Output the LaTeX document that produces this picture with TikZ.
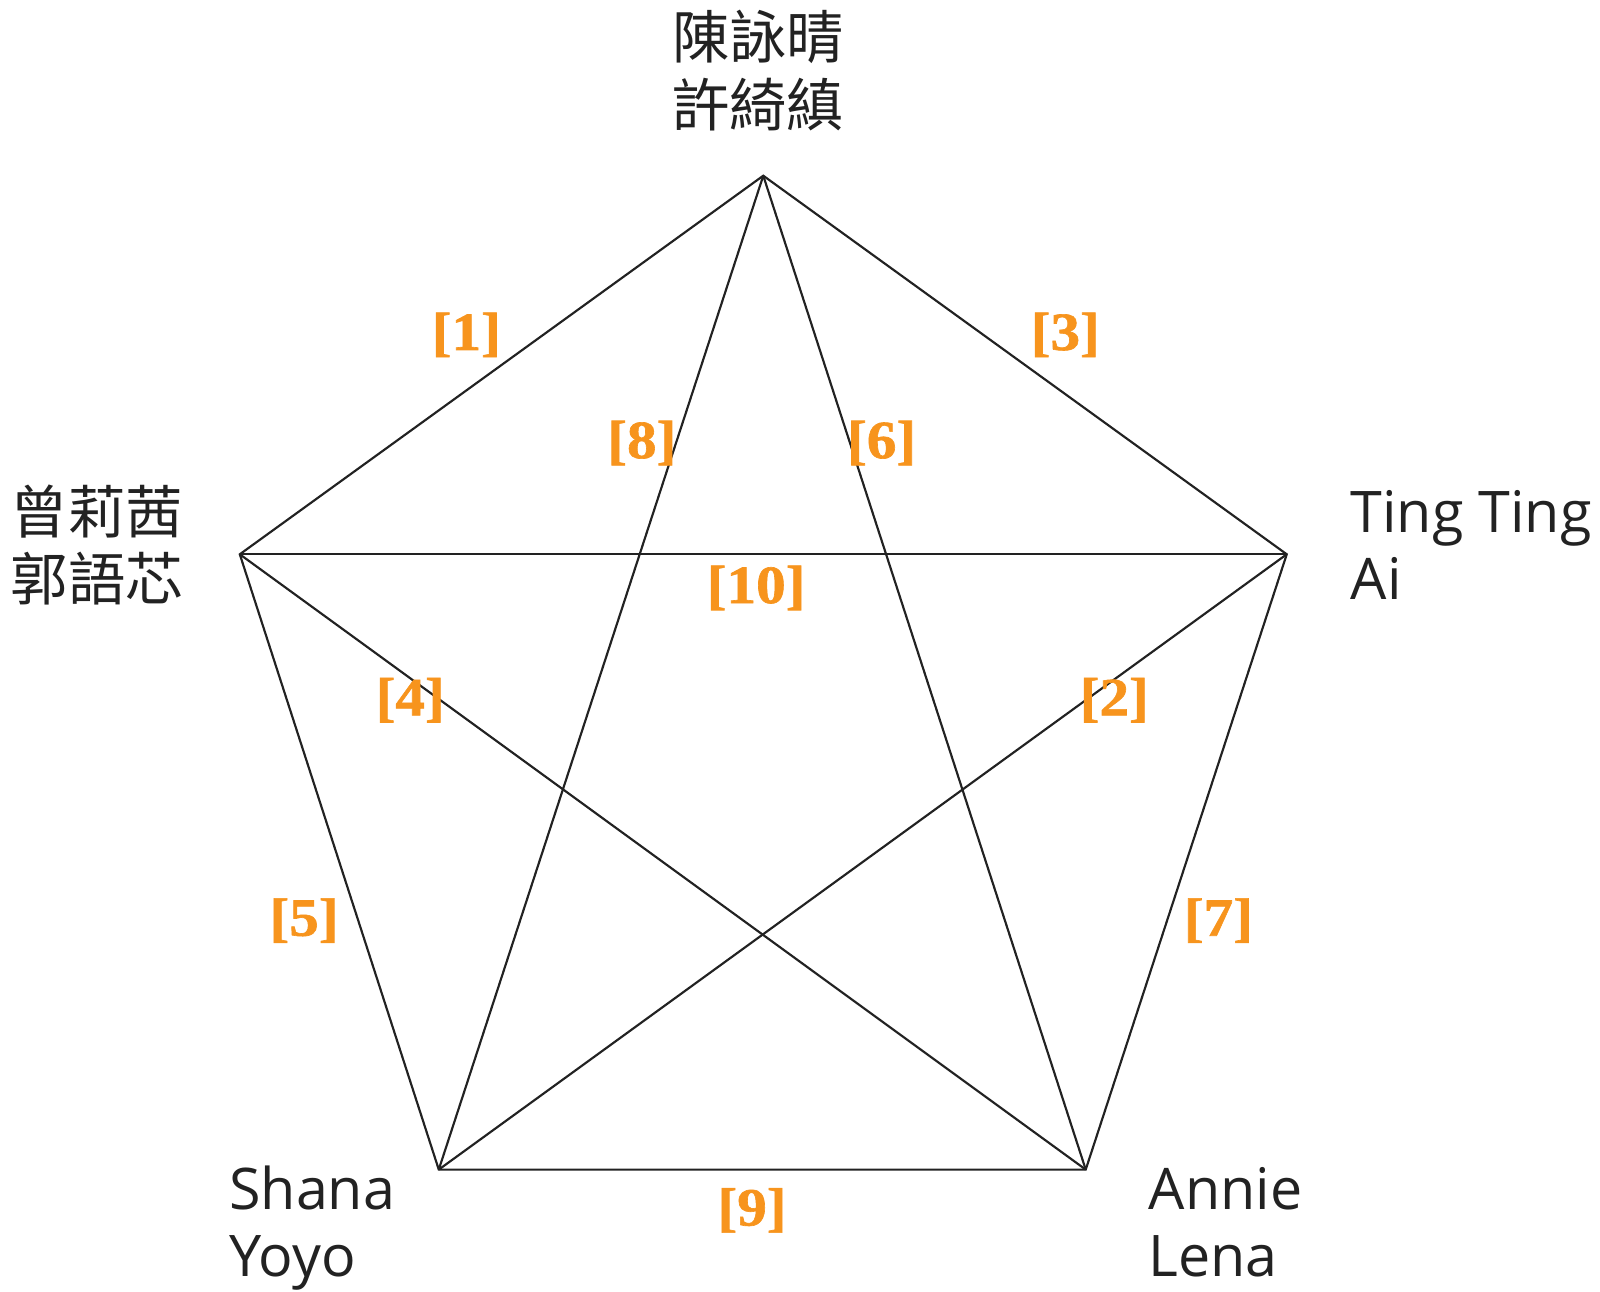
\documentclass[tikz,border=0pt]{standalone}
\usepackage{fontspec}
\setmainfont{Open Sans}
\newfontfamily\cjk{Noto Sans CJK TC}
\newfontfamily\tagfont[FakeStretch=1.1, FakeBold=1.2]{Liberation Serif}
\usepackage{tikz}
\usetikzlibrary{calc, positioning}

\definecolor{tagorange}{HTML}{F7941D}
\definecolor{linegray}{HTML}{222222}

\begin{document}
\begin{tikzpicture}[
  pairtext/.style={
    inner sep=0pt, align=left, text=linegray,
    font=\fontsize{16}{18.8}\selectfont
  },
  tag/.style={
    inner sep=0pt, text=tagorange,
    font=\tagfont\bfseries\fontsize{15}{15}\selectfont
  },
  link/.style={draw=linegray, line width=0.6pt}
]
\useasboundingbox (0,0) rectangle (15.68,12.652);

% Corners
\coordinate (Top) at (7.48,10.93);
\coordinate (Left) at (2.35,7.22);
\coordinate (Right) at (12.61,7.22);
\coordinate (BotLeft) at (4.30,1.19);
\coordinate (BotRight) at (10.64,1.19);

% Names
\node[pairtext, align=center] (Top_pair) at (7.43,11.96) {\cjk 陳詠晴\\\cjk 許綺縝};
\node[pairtext] (Left_pair) at (0.95,7.31) {\cjk 曾莉茜\\\cjk 郭語芯};
\node[pairtext, anchor=west] (Right_pair) at (13.23,7.31) {Ting Ting\\Ai};
\node[pairtext, anchor=base west] (BotLeft_pair) at (2.24,0.14) {Shana\\Yoyo};
\node[pairtext, anchor=base west] (BotRight_pair) at (11.25,0.14) {Annie\\Lena};

% Edges
\draw[link] (Top) -- (Left) -- (BotLeft) -- (BotRight) -- (Right) -- cycle;
\draw[link] (Top) -- (BotLeft);
\draw[link] (Top) -- (BotRight);
\draw[link] (Left) -- (Right);
\draw[link] (Left) -- (BotRight);
\draw[link] (Right) -- (BotLeft);

% Tags
\node[tag] (Tag_1) at (4.57,9.37) {[1]};
\node[tag] (Tag_2) at (10.92,5.79) {[2]};
\node[tag] (Tag_3) at (10.44,9.37) {[3]};
\node[tag] (Tag_4) at (4.02,5.79) {[4]};
\node[tag] (Tag_5) at (2.98,3.63) {[5]};
\node[tag] (Tag_6) at (8.64,8.31) {[6]};
\node[tag] (Tag_7) at (11.94,3.63) {[7]};
\node[tag] (Tag_8) at (6.29,8.31) {[8]};
\node[tag] (Tag_9) at (7.37,0.79) {[9]};
\node[tag] (Tag_10) at (7.41,6.89) {[10]};

\end{tikzpicture}
\end{document}
